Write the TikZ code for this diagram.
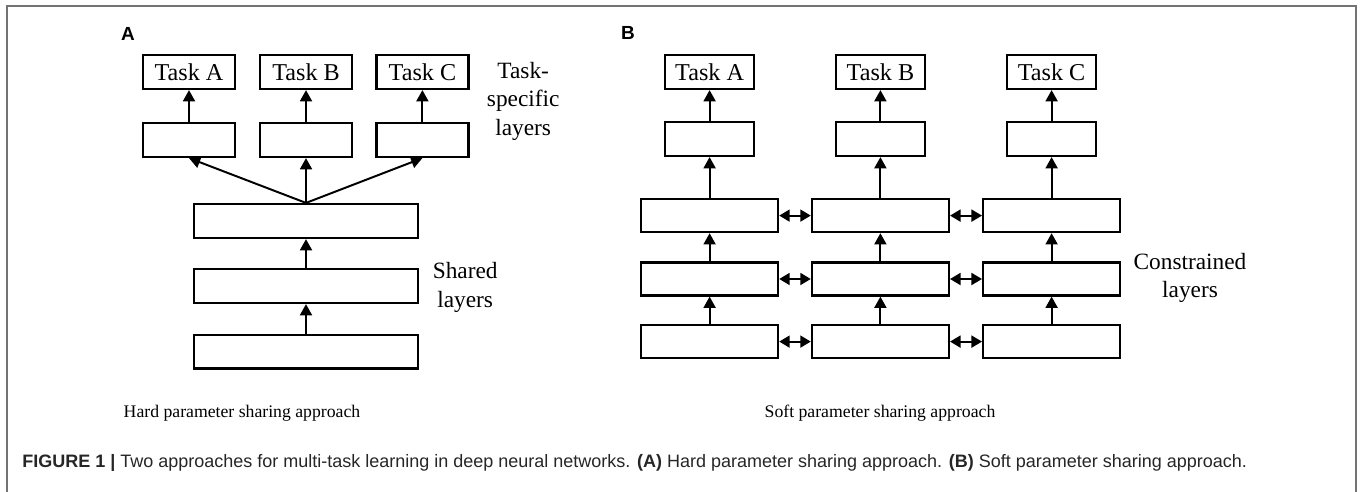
\documentclass[tikz,border=0pt]{standalone}
\usepackage{fontspec}
\setmainfont{Liberation Serif}
\setsansfont{Liberation Sans}
\usetikzlibrary{arrows.meta, positioning}

\tikzset{
  layer/.style={draw, line width=1.7pt, minimum height=0.845cm, inner sep=0pt},
  task/.style={layer, font=\fontsize{17.2}{20}\selectfont},
  note/.style={align=center, font=\fontsize{16.6}{20.3}\selectfont},
  title/.style={font=\fontsize{12.6}{15}\selectfont},
  panel/.style={font=\sffamily\bfseries\fontsize{13.5}{15}\selectfont},
  flow/.style={-{Triangle[length=8pt,width=8.5pt]}, line width=1.4pt},
  link/.style={{Triangle[length=7.5pt,width=8.5pt]}-{Triangle[length=7.5pt,width=8.5pt]}, line width=1.4pt},
}

\begin{document}
\begin{tikzpicture}
  \useasboundingbox (0,0) rectangle (34,-12.3);
  % frame
  \draw[black!55, line width=1pt] (0.175,-12.3) -- (0.175,-0.15) -- (33.9,-0.15) -- (33.9,-12.3);

  % (A) hard parameter sharing
  \node[panel] at (3.2,-0.85) (labA) {A};
  \node[task, minimum width=2.3cm] at (4.725,-1.8) (aTaskA) {Task A};
  \node[task, minimum width=2.3cm] at (7.65,-1.8) (aTaskB) {Task B};
  \node[task, minimum width=2.3cm] at (10.56,-1.8) (aTaskC) {Task C};
  \node[layer, minimum width=2.3cm] at (4.725,-3.5) (aSpecA) {};
  \node[layer, minimum width=2.3cm] at (7.65,-3.5) (aSpecB) {};
  \node[layer, minimum width=2.3cm] at (10.56,-3.5) (aSpecC) {};
  \node[layer, minimum width=5.6cm] at (7.65,-5.525) (aShared1) {};
  \node[layer, minimum width=5.6cm] at (7.65,-7.15) (aShared2) {};
  \node[layer, minimum width=5.6cm] at (7.65,-8.79) (aShared3) {};
  \draw[flow] (aSpecA) -- (aTaskA);
  \draw[flow] (aSpecB) -- (aTaskB);
  \draw[flow] (aSpecC) -- (aTaskC);
  \draw[flow] (aShared1.north) -- (aSpecA.south);
  \draw[flow] (aShared1.north) -- (aSpecB.south);
  \draw[flow] (aShared1.north) -- (aSpecC.south);
  \draw[flow] (aShared2) -- (aShared1);
  \draw[flow] (aShared3) -- (aShared2);
  \node[note] at (13.08,-2.53) (aSpecNote) {Task-\\specific\\layers};
  \node[note] at (11.63,-7.18) (aSharedNote) {Shared\\layers};
  \node[title] at (6.05,-10.33) (aTitle) {Hard parameter sharing approach};

  % (B) soft parameter sharing
  \node[panel] at (15.7,-0.83) (labB) {B};
  \node[task, minimum width=2.22cm] at (17.74,-1.8) (bTaskA) {Task A};
  \node[task, minimum width=2.22cm] at (22.01,-1.8) (bTaskB) {Task B};
  \node[task, minimum width=2.22cm] at (26.29,-1.8) (bTaskC) {Task C};
  \node[layer, minimum width=2.22cm] at (17.74,-3.475) (bSpecA) {};
  \node[layer, minimum width=2.22cm] at (22.01,-3.475) (bSpecB) {};
  \node[layer, minimum width=2.22cm] at (26.29,-3.475) (bSpecC) {};
  \node[layer, minimum width=3.42cm, minimum height=0.82cm] at (17.74,-5.39) (bA1) {};
  \node[layer, minimum width=3.42cm, minimum height=0.82cm] at (22.01,-5.39) (bB1) {};
  \node[layer, minimum width=3.42cm, minimum height=0.82cm] at (26.29,-5.39) (bC1) {};
  \node[layer, minimum width=3.42cm, minimum height=0.82cm] at (17.74,-6.975) (bA2) {};
  \node[layer, minimum width=3.42cm, minimum height=0.82cm] at (22.01,-6.975) (bB2) {};
  \node[layer, minimum width=3.42cm, minimum height=0.82cm] at (26.29,-6.975) (bC2) {};
  \node[layer, minimum width=3.42cm, minimum height=0.82cm] at (17.74,-8.54) (bA3) {};
  \node[layer, minimum width=3.42cm, minimum height=0.82cm] at (22.01,-8.54) (bB3) {};
  \node[layer, minimum width=3.42cm, minimum height=0.82cm] at (26.29,-8.54) (bC3) {};
  \draw[flow] (bSpecA) -- (bTaskA);
  \draw[flow] (bSpecB) -- (bTaskB);
  \draw[flow] (bSpecC) -- (bTaskC);
  \draw[flow] (bA1) -- (bSpecA);
  \draw[flow] (bB1) -- (bSpecB);
  \draw[flow] (bC1) -- (bSpecC);
  \draw[flow] (bA2) -- (bA1);
  \draw[flow] (bB2) -- (bB1);
  \draw[flow] (bC2) -- (bC1);
  \draw[flow] (bA3) -- (bA2);
  \draw[flow] (bB3) -- (bB2);
  \draw[flow] (bC3) -- (bC2);
  \draw[link] (bA1) -- (bB1);
  \draw[link] (bB1) -- (bC1);
  \draw[link] (bA2) -- (bB2);
  \draw[link] (bB2) -- (bC2);
  \draw[link] (bA3) -- (bB3);
  \draw[link] (bB3) -- (bC3);
  \node[note] at (29.75,-6.95) (bNote) {Constrained\\layers};
  \node[title] at (22.0,-10.33) (bTitle) {Soft parameter sharing approach};

  % caption
  \node[anchor=west, inner sep=0pt, text=black!85, font=\sffamily\fontsize{12.8}{15}\selectfont] at (0.55,-11.58) (caption)
    {\textbf{FIGURE 1 |} Two approaches for multi-task learning in deep neural networks. \textbf{(A)} Hard parameter sharing approach. \textbf{(B)} Soft parameter sharing approach.};
\end{tikzpicture}
\end{document}
